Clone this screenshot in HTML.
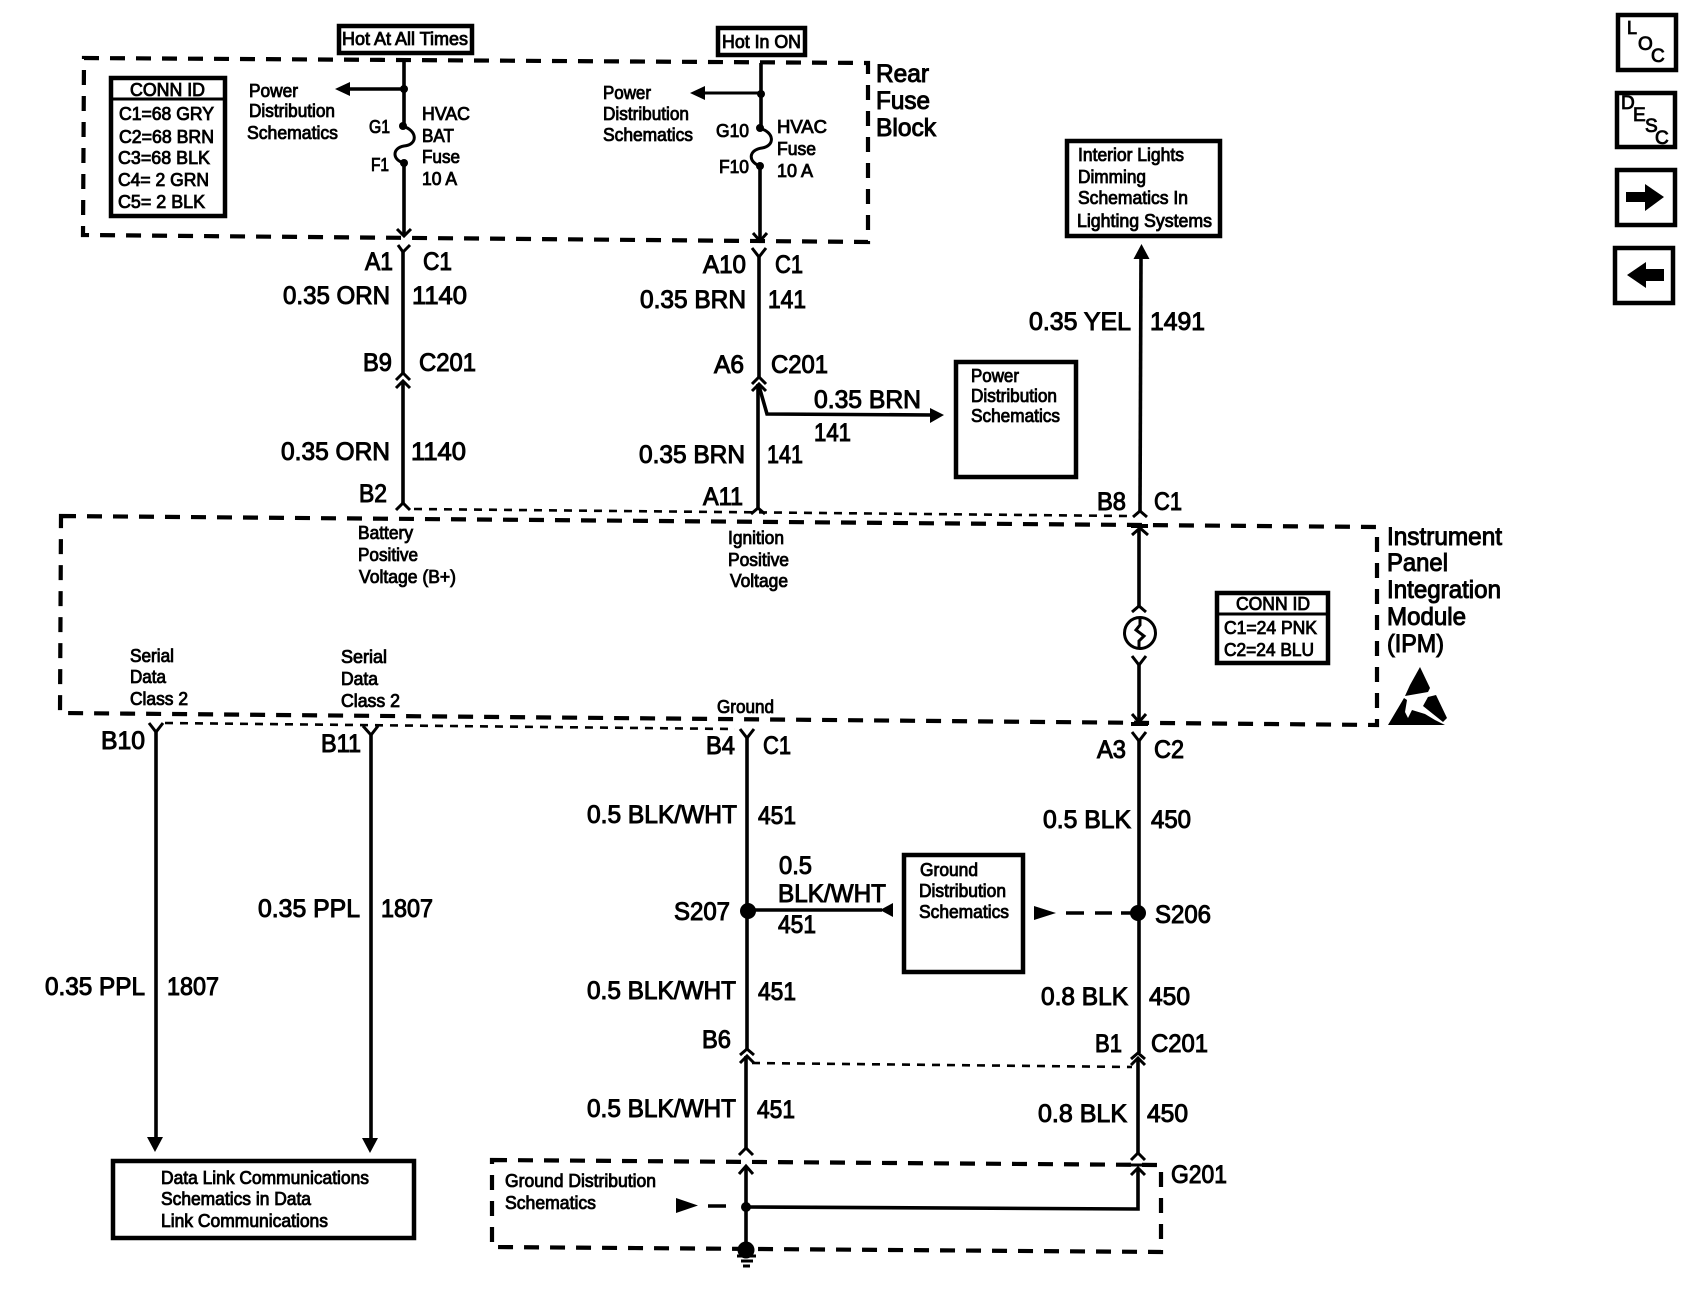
<!DOCTYPE html>
<html><head><meta charset="utf-8"><title>Wiring diagram</title>
<style>
html,body{margin:0;padding:0;background:#fff}
svg{display:block}
text{font-family:"Liberation Sans",sans-serif;fill:#000;stroke:#000}
.b{font-size:25px;stroke-width:1px}
.m{font-size:18px;stroke-width:.85px}
.w{fill:none;stroke:#000;stroke-width:3.6}
.c{fill:none;stroke:#000;stroke-width:3}
.d{fill:none;stroke:#000;stroke-width:4.2;stroke-dasharray:15 11}
.t{fill:none;stroke:#000;stroke-width:2.6;stroke-dasharray:8 7}
.x{fill:#fff;stroke:#000;stroke-width:4.5}
</style></head><body>
<svg xmlns="http://www.w3.org/2000/svg" width="1702" height="1312" viewBox="0 0 1702 1312">
<rect width="1702" height="1312" fill="#fff"/>

<!-- dashed containers -->
<path class="d" d="M84 58L868 63L868 242L83 235Z"/>
<path class="d" d="M61 516L1377 527L1377 725L60 713Z"/>
<path class="d" d="M492 1160L1161 1165L1161 1252L492 1247Z"/>
<path class="t" d="M414 509L1128 516"/>
<path class="t" d="M165 723L735 729"/>
<path class="t" d="M752 1063L1132 1067"/>

<!-- top boxes -->
<rect class="x" x="339" y="26" width="133" height="27"/>
<rect class="x" x="718" y="28" width="87" height="27"/>
<text class="m" x="342" y="45" textLength="126" lengthAdjust="spacingAndGlyphs">Hot At All Times</text>
<text class="m" x="722" y="48" textLength="79" lengthAdjust="spacingAndGlyphs">Hot In ON</text>

<!-- conn id 1 -->
<rect class="x" x="111" y="78" width="114" height="138"/>
<path d="M111 99H225" stroke="#000" stroke-width="3"/>
<text class="m" x="130" y="96" textLength="75" lengthAdjust="spacingAndGlyphs">CONN ID</text>
<text class="m" x="119" y="120" textLength="95" lengthAdjust="spacingAndGlyphs">C1=68 GRY</text>
<text class="m" x="119" y="143" textLength="95" lengthAdjust="spacingAndGlyphs">C2=68 BRN</text>
<text class="m" x="118" y="164" textLength="92" lengthAdjust="spacingAndGlyphs">C3=68 BLK</text>
<text class="m" x="118" y="186" textLength="91" lengthAdjust="spacingAndGlyphs">C4= 2 GRN</text>
<text class="m" x="118" y="208" textLength="87" lengthAdjust="spacingAndGlyphs">C5= 2 BLK</text>

<text class="m" x="249" y="97" textLength="49" lengthAdjust="spacingAndGlyphs">Power</text>
<text class="m" x="249" y="117" textLength="86" lengthAdjust="spacingAndGlyphs">Distribution</text>
<text class="m" x="247" y="139" textLength="91" lengthAdjust="spacingAndGlyphs">Schematics</text>

<!-- wire 1 top -->
<path class="w" d="M404 60V126"/>
<path class="w" d="M404 163V236"/>
<path d="M402 126C418 130 418 145 404 146C392 148 392 160 404 163" fill="none" stroke="#000" stroke-width="3"/>
<circle cx="404" cy="89" r="4"/><circle cx="403" cy="126" r="4"/><circle cx="404" cy="163" r="4"/>
<path class="w" d="M404 89H345"/>
<path d="M335 89L350 82V96Z"/>
<path class="c" d="M397 229L404 236L411 229"/>
<path class="c" d="M398 245L403 252L410 245"/>
<path class="w" d="M403 250V373"/>
<path class="c" d="M396 380L403 373L410 380"/>
<path class="c" d="M396 388L403 381L410 388"/>
<path class="w" d="M403 381V503"/>
<path class="c" d="M396 510L403 503L410 510"/>
<text class="m" x="369" y="133" textLength="21" lengthAdjust="spacingAndGlyphs">G1</text>
<text class="m" x="371" y="171" textLength="18" lengthAdjust="spacingAndGlyphs">F1</text>
<text class="m" x="422" y="120" textLength="48" lengthAdjust="spacingAndGlyphs">HVAC</text>
<text class="m" x="422" y="142" textLength="32" lengthAdjust="spacingAndGlyphs">BAT</text>
<text class="m" x="422" y="163" textLength="38" lengthAdjust="spacingAndGlyphs">Fuse</text>
<text class="m" x="422" y="185" textLength="35" lengthAdjust="spacingAndGlyphs">10 A</text>
<text class="b" x="365" y="270" textLength="28" lengthAdjust="spacingAndGlyphs">A1</text>
<text class="b" x="423" y="270" textLength="29" lengthAdjust="spacingAndGlyphs">C1</text>
<text class="b" x="283" y="304" textLength="107" lengthAdjust="spacingAndGlyphs">0.35 ORN</text>
<text class="b" x="412" y="304" textLength="55" lengthAdjust="spacingAndGlyphs">1140</text>
<text class="b" x="363" y="371" textLength="29" lengthAdjust="spacingAndGlyphs">B9</text>
<text class="b" x="419" y="371" textLength="57" lengthAdjust="spacingAndGlyphs">C201</text>
<text class="b" x="281" y="460" textLength="109" lengthAdjust="spacingAndGlyphs">0.35 ORN</text>
<text class="b" x="411" y="460" textLength="55" lengthAdjust="spacingAndGlyphs">1140</text>
<text class="b" x="359" y="502" textLength="28" lengthAdjust="spacingAndGlyphs">B2</text>
<text class="m" x="358" y="539" textLength="55" lengthAdjust="spacingAndGlyphs">Battery</text>
<text class="m" x="358" y="561" textLength="60" lengthAdjust="spacingAndGlyphs">Positive</text>
<text class="m" x="359" y="583" textLength="97" lengthAdjust="spacingAndGlyphs">Voltage (B+)</text>

<!-- wire 2 top -->
<path class="w" d="M761 63V128"/>
<path class="w" d="M760 166V241"/>
<path d="M759 128C775 132 775 146 762 148C748 150 748 162 760 166" fill="none" stroke="#000" stroke-width="3"/>
<circle cx="761" cy="94" r="4"/><circle cx="760" cy="128" r="4"/><circle cx="760" cy="166" r="4"/>
<path d="M761 93H700" fill="none" stroke="#000" stroke-width="3"/>
<path d="M690 93L705 86V100Z"/>
<path class="c" d="M753 233L760 241L767 233"/>
<path class="c" d="M752 248L759 257L766 248"/>
<path class="w" d="M759 255V377"/>
<path class="c" d="M752 384L759 377L766 384"/>
<path class="c" d="M752 391L759 384L766 391"/>
<path class="w" d="M758 384V508"/>
<path class="c" d="M751 514L758 508L765 514"/>
<path class="w" d="M759 386L767 414L933 415"/>
<path d="M944 415L930 408V423Z"/>
<text class="m" x="603" y="99" textLength="48" lengthAdjust="spacingAndGlyphs">Power</text>
<text class="m" x="603" y="120" textLength="86" lengthAdjust="spacingAndGlyphs">Distribution</text>
<text class="m" x="603" y="141" textLength="90" lengthAdjust="spacingAndGlyphs">Schematics</text>
<text class="m" x="716" y="137" textLength="33" lengthAdjust="spacingAndGlyphs">G10</text>
<text class="m" x="719" y="173" textLength="30" lengthAdjust="spacingAndGlyphs">F10</text>
<text class="m" x="777" y="133" textLength="50" lengthAdjust="spacingAndGlyphs">HVAC</text>
<text class="m" x="777" y="155" textLength="39" lengthAdjust="spacingAndGlyphs">Fuse</text>
<text class="m" x="777" y="177" textLength="36" lengthAdjust="spacingAndGlyphs">10 A</text>
<text class="b" x="703" y="273" textLength="43" lengthAdjust="spacingAndGlyphs">A10</text>
<text class="b" x="775" y="273" textLength="28" lengthAdjust="spacingAndGlyphs">C1</text>
<text class="b" x="640" y="308" textLength="106" lengthAdjust="spacingAndGlyphs">0.35 BRN</text>
<text class="b" x="768" y="308" textLength="38" lengthAdjust="spacingAndGlyphs">141</text>
<text class="b" x="714" y="373" textLength="30" lengthAdjust="spacingAndGlyphs">A6</text>
<text class="b" x="771" y="373" textLength="57" lengthAdjust="spacingAndGlyphs">C201</text>
<text class="b" x="814" y="408" textLength="107" lengthAdjust="spacingAndGlyphs">0.35 BRN</text>
<text class="b" x="814" y="441" textLength="37" lengthAdjust="spacingAndGlyphs">141</text>
<text class="b" x="639" y="463" textLength="106" lengthAdjust="spacingAndGlyphs">0.35 BRN</text>
<text class="b" x="767" y="463" textLength="36" lengthAdjust="spacingAndGlyphs">141</text>
<text class="b" x="703" y="505" textLength="40" lengthAdjust="spacingAndGlyphs">A11</text>
<text class="m" x="728" y="544" textLength="56" lengthAdjust="spacingAndGlyphs">Ignition</text>
<text class="m" x="728" y="566" textLength="61" lengthAdjust="spacingAndGlyphs">Positive</text>
<text class="m" x="730" y="587" textLength="58" lengthAdjust="spacingAndGlyphs">Voltage</text>

<rect class="x" x="956" y="362" width="120" height="115"/>
<text class="m" x="971" y="382" textLength="48" lengthAdjust="spacingAndGlyphs">Power</text>
<text class="m" x="971" y="402" textLength="86" lengthAdjust="spacingAndGlyphs">Distribution</text>
<text class="m" x="971" y="422" textLength="89" lengthAdjust="spacingAndGlyphs">Schematics</text>

<!-- interior lights -->
<rect class="x" x="1067" y="141" width="153" height="95"/>
<text class="m" x="1078" y="161" textLength="106" lengthAdjust="spacingAndGlyphs">Interior Lights</text>
<text class="m" x="1078" y="183" textLength="68" lengthAdjust="spacingAndGlyphs">Dimming</text>
<text class="m" x="1078" y="204" textLength="110" lengthAdjust="spacingAndGlyphs">Schematics In</text>
<text class="m" x="1077" y="227" textLength="135" lengthAdjust="spacingAndGlyphs">Lighting Systems</text>
<path d="M1141.500 244L1133.500 259H1149.500Z"/>
<path class="w" d="M1141 258L1140 511"/>
<path class="c" d="M1133 517L1140 511L1147 517"/>
<text class="b" x="1029" y="330" textLength="102" lengthAdjust="spacingAndGlyphs">0.35 YEL</text>
<text class="b" x="1150" y="330" textLength="55" lengthAdjust="spacingAndGlyphs">1491</text>
<text class="b" x="1097" y="510" textLength="29" lengthAdjust="spacingAndGlyphs">B8</text>
<text class="b" x="1154" y="510" textLength="28" lengthAdjust="spacingAndGlyphs">C1</text>

<!-- IPM internal -->
<path d="M1131 526H1148" stroke="#000" stroke-width="4"/>
<path class="c" d="M1132 535L1140 528L1148 535"/>
<path class="w" d="M1139 529V606"/>
<path class="c" d="M1132 612L1139 606L1146 612"/>
<circle cx="1140" cy="633" r="15.500" fill="#fff" stroke="#000" stroke-width="3"/>
<path d="M1140 619V625L1136 630L1144 636L1139 641V648" fill="none" stroke="#000" stroke-width="3"/>
<path class="c" d="M1132 656L1139 665L1146 656"/>
<path class="w" d="M1139 663V722"/>
<path class="c" d="M1132 714L1139 722L1146 714"/>
<path d="M1131 724H1148" stroke="#000" stroke-width="4"/>
<path class="c" d="M1132 732L1139 741L1146 732"/>
<path class="w" d="M1139 739V1053"/>
<text class="b" x="1097" y="758" textLength="29" lengthAdjust="spacingAndGlyphs">A3</text>
<text class="b" x="1154" y="758" textLength="30" lengthAdjust="spacingAndGlyphs">C2</text>
<text class="m" x="717" y="713" textLength="57" lengthAdjust="spacingAndGlyphs">Ground</text>

<!-- conn id 2 -->
<rect class="x" x="1217" y="593" width="111" height="70"/>
<path d="M1217 614H1328" stroke="#000" stroke-width="3"/>
<text class="m" x="1236" y="610" textLength="74" lengthAdjust="spacingAndGlyphs">CONN ID</text>
<text class="m" x="1224" y="634" textLength="93" lengthAdjust="spacingAndGlyphs">C1=24 PNK</text>
<text class="m" x="1224" y="656" textLength="90" lengthAdjust="spacingAndGlyphs">C2=24 BLU</text>

<text class="b" x="1387" y="545" textLength="115" lengthAdjust="spacingAndGlyphs">Instrument</text>
<text class="b" x="1387" y="571" textLength="61" lengthAdjust="spacingAndGlyphs">Panel</text>
<text class="b" x="1387" y="598" textLength="114" lengthAdjust="spacingAndGlyphs">Integration</text>
<text class="b" x="1387" y="625" textLength="79" lengthAdjust="spacingAndGlyphs">Module</text>
<text class="b" x="1387" y="652" textLength="57" lengthAdjust="spacingAndGlyphs">(IPM)</text>

<!-- ESD -->
<path d="M1420 667L1430 688L1428 692L1405 696L1410 685Z"/>
<path d="M1428 697L1436 695L1447 718L1443 722L1423 706Z"/>
<path d="M1388 725L1404 698L1407 700L1405 712L1408 718L1412 710L1425 714L1435 720L1445 725Z"/>

<!-- serial data -->
<text class="m" x="130" y="662" textLength="44" lengthAdjust="spacingAndGlyphs">Serial</text>
<text class="m" x="130" y="683" textLength="36" lengthAdjust="spacingAndGlyphs">Data</text>
<text class="m" x="130" y="705" textLength="58" lengthAdjust="spacingAndGlyphs">Class 2</text>
<text class="m" x="341" y="663" textLength="46" lengthAdjust="spacingAndGlyphs">Serial</text>
<text class="m" x="341" y="685" textLength="37" lengthAdjust="spacingAndGlyphs">Data</text>
<text class="m" x="341" y="707" textLength="59" lengthAdjust="spacingAndGlyphs">Class 2</text>
<text class="b" x="101" y="749" textLength="44" lengthAdjust="spacingAndGlyphs">B10</text>
<text class="b" x="321" y="752" textLength="40" lengthAdjust="spacingAndGlyphs">B11</text>
<path class="c" d="M149 723L156 732L163 723"/>
<path class="c" d="M363 726L371 735L378 726"/>
<path class="w" d="M156 730V1140"/>
<path class="w" d="M371 733V1140"/>
<path d="M155 1152L147 1137H163Z"/>
<path d="M370 1153L362 1138H378Z"/>
<text class="b" x="258" y="917" textLength="102" lengthAdjust="spacingAndGlyphs">0.35 PPL</text>
<text class="b" x="381" y="917" textLength="52" lengthAdjust="spacingAndGlyphs">1807</text>
<text class="b" x="45" y="995" textLength="100" lengthAdjust="spacingAndGlyphs">0.35 PPL</text>
<text class="b" x="167" y="995" textLength="52" lengthAdjust="spacingAndGlyphs">1807</text>
<rect class="x" x="113" y="1161" width="301" height="77"/>
<text class="m" x="161" y="1184" textLength="208" lengthAdjust="spacingAndGlyphs">Data Link Communications</text>
<text class="m" x="161" y="1205" textLength="150" lengthAdjust="spacingAndGlyphs">Schematics in Data</text>
<text class="m" x="161" y="1227" textLength="167" lengthAdjust="spacingAndGlyphs">Link Communications</text>

<!-- ground wires -->
<path class="c" d="M740 729L747 738L754 729"/>
<path class="w" d="M747 736V1049"/>
<text class="b" x="706" y="754" textLength="29" lengthAdjust="spacingAndGlyphs">B4</text>
<text class="b" x="763" y="754" textLength="28" lengthAdjust="spacingAndGlyphs">C1</text>
<text class="b" x="587" y="823" textLength="150" lengthAdjust="spacingAndGlyphs">0.5 BLK/WHT</text>
<text class="b" x="758" y="824" textLength="38" lengthAdjust="spacingAndGlyphs">451</text>
<text class="b" x="1043" y="828" textLength="88" lengthAdjust="spacingAndGlyphs">0.5 BLK</text>
<text class="b" x="1151" y="828" textLength="40" lengthAdjust="spacingAndGlyphs">450</text>
<circle cx="748" cy="911" r="8"/>
<path class="w" d="M748 910H882"/>
<path d="M880 910L893 903V917Z"/>
<text class="b" x="779" y="874" textLength="33" lengthAdjust="spacingAndGlyphs">0.5</text>
<text class="b" x="778" y="902" textLength="108" lengthAdjust="spacingAndGlyphs">BLK/WHT</text>
<text class="b" x="778" y="933" textLength="38" lengthAdjust="spacingAndGlyphs">451</text>
<text class="b" x="674" y="920" textLength="56" lengthAdjust="spacingAndGlyphs">S207</text>
<rect class="x" x="904" y="855" width="119" height="117"/>
<text class="m" x="920" y="876" textLength="58" lengthAdjust="spacingAndGlyphs">Ground</text>
<text class="m" x="919" y="897" textLength="87" lengthAdjust="spacingAndGlyphs">Distribution</text>
<text class="m" x="919" y="918" textLength="90" lengthAdjust="spacingAndGlyphs">Schematics</text>
<path d="M1034 906L1056 913L1034 920Z"/>
<path d="M1066 913H1084M1095 913H1112M1121 913H1131" fill="none" stroke="#000" stroke-width="3.500"/>
<circle cx="1138" cy="913" r="8"/>
<text class="b" x="1155" y="923" textLength="56" lengthAdjust="spacingAndGlyphs">S206</text>
<text class="b" x="587" y="999" textLength="149" lengthAdjust="spacingAndGlyphs">0.5 BLK/WHT</text>
<text class="b" x="758" y="1000" textLength="38" lengthAdjust="spacingAndGlyphs">451</text>
<text class="b" x="1041" y="1005" textLength="87" lengthAdjust="spacingAndGlyphs">0.8 BLK</text>
<text class="b" x="1149" y="1005" textLength="41" lengthAdjust="spacingAndGlyphs">450</text>
<text class="b" x="702" y="1048" textLength="29" lengthAdjust="spacingAndGlyphs">B6</text>
<text class="b" x="1095" y="1052" textLength="27" lengthAdjust="spacingAndGlyphs">B1</text>
<text class="b" x="1151" y="1052" textLength="57" lengthAdjust="spacingAndGlyphs">C201</text>
<path class="c" d="M740 1055L747 1049L754 1055"/>
<path class="c" d="M740 1063L747 1056L754 1063"/>
<path class="c" d="M1131 1059L1138 1053L1145 1059"/>
<path class="c" d="M1131 1065L1138 1058L1145 1065"/>
<path class="w" d="M746 1056V1148"/>
<path class="w" d="M1138 1058V1153"/>
<path class="c" d="M739 1155L746 1148L753 1155"/>
<path class="c" d="M1131 1160L1138 1153L1145 1160"/>
<text class="b" x="587" y="1117" textLength="149" lengthAdjust="spacingAndGlyphs">0.5 BLK/WHT</text>
<text class="b" x="757" y="1118" textLength="38" lengthAdjust="spacingAndGlyphs">451</text>
<text class="b" x="1038" y="1122" textLength="89" lengthAdjust="spacingAndGlyphs">0.8 BLK</text>
<text class="b" x="1147" y="1122" textLength="41" lengthAdjust="spacingAndGlyphs">450</text>
<path class="c" d="M739 1174L746 1166L753 1174"/>
<path d="M1131 1165H1146" stroke="#000" stroke-width="3"/>
<path class="c" d="M1131 1175L1138 1168L1145 1175"/>
<path class="w" d="M746 1167V1249"/>
<path class="w" d="M1138 1168V1209L746 1207"/>
<circle cx="746" cy="1207" r="5"/>
<path d="M676 1198L698 1205.500L676 1213Z"/>
<path d="M708 1206H726" stroke="#000" stroke-width="3.500"/>
<circle cx="746" cy="1250" r="8.500"/>
<path d="M737 1256H756M741 1261H753M743 1266H750" stroke="#000" stroke-width="3"/>
<text class="m" x="505" y="1187" textLength="151" lengthAdjust="spacingAndGlyphs">Ground Distribution</text>
<text class="m" x="505" y="1209" textLength="91" lengthAdjust="spacingAndGlyphs">Schematics</text>
<text class="b" x="1171" y="1183" textLength="56" lengthAdjust="spacingAndGlyphs">G201</text>

<!-- rear fuse label -->
<text class="b" x="876" y="82" textLength="53" lengthAdjust="spacingAndGlyphs">Rear</text>
<text class="b" x="876" y="109" textLength="54" lengthAdjust="spacingAndGlyphs">Fuse</text>
<text class="b" x="876" y="136" textLength="60" lengthAdjust="spacingAndGlyphs">Block</text>

<!-- right buttons -->
<rect class="x" x="1618" y="15" width="58" height="55"/>
<text class="m" x="1627" y="34">L</text>
<text class="m" x="1638" y="50" style="font-size:19px">O</text>
<text class="m" x="1651" y="62" style="font-size:19px">C</text>
<rect class="x" x="1617" y="93" width="58" height="54"/>
<text class="m" x="1621" y="109" style="font-size:19px">D</text>
<text class="m" x="1633" y="121" style="font-size:19px">E</text>
<text class="m" x="1645" y="132" style="font-size:19px">S</text>
<text class="m" x="1655" y="144" style="font-size:19px">C</text>
<rect class="x" x="1617" y="170" width="58" height="55"/>
<path d="M1626 192H1645V184L1664 197L1645 211V202H1626Z"/>
<rect class="x" x="1615" y="248" width="58" height="55"/>
<path d="M1627 275L1646 262V269H1664V281H1646V288Z"/>
</svg>
</body></html>
